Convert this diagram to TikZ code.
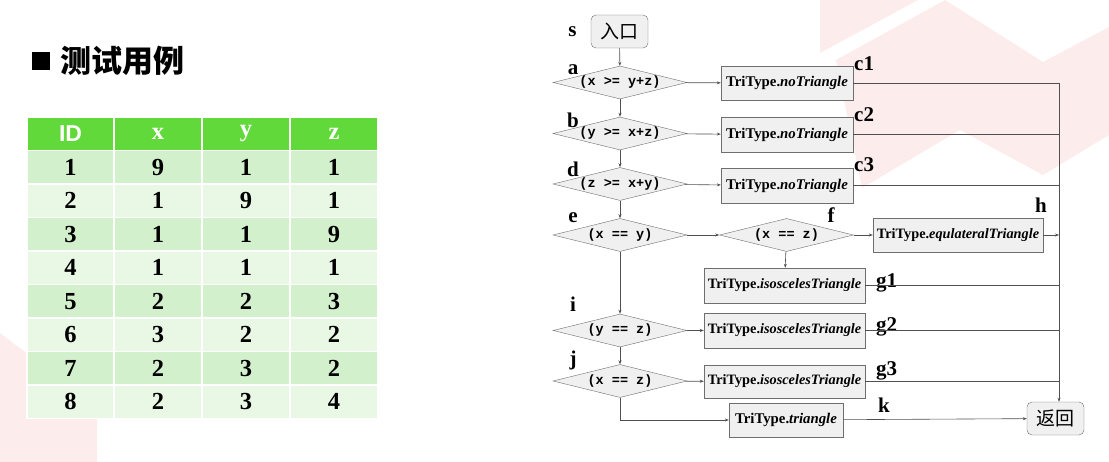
\documentclass[tikz,border=0pt]{standalone}
\usepackage{fontspec}
\setmainfont{Liberation Serif}
\newfontfamily\cjk{Noto Sans CJK SC}
\newfontfamily\monob{Liberation Mono}
\newfontfamily\sansf{Liberation Sans}
\usetikzlibrary{shapes.geometric,arrows.meta}
\definecolor{hdr}{HTML}{62D93A}
\definecolor{rowA}{HTML}{D3F0CD}
\definecolor{rowB}{HTML}{E9F7E5}
\definecolor{pinkbg}{HTML}{FCECEC}
\definecolor{boxfill}{HTML}{F0F0F0}
\definecolor{boxline}{HTML}{6E6E6E}
\definecolor{conn}{HTML}{505050}
\begin{document}
\begin{tikzpicture}[x=1pt,y=-1pt,
  dia/.style={diamond, draw=boxline, fill=boxfill, minimum width=134pt, minimum height=33pt, inner sep=0pt, aspect=4, font=\monob\bfseries\fontsize{13.5}{14}\selectfont},
  box/.style={rectangle, draw=boxline, fill=boxfill, inner sep=0pt, font=\bfseries\fontsize{14.3}{16}\selectfont},
  rbox/.style={rectangle, rounded corners=5pt, draw=boxline, fill=boxfill, minimum width=57pt, minimum height=33pt, inner sep=0pt, font=\cjk\fontsize{19}{20}\selectfont},
  lbl/.style={font=\bfseries\fontsize{21}{22}\selectfont, inner sep=0pt},
  arr/.style={draw=conn, line width=0.6pt, -{Stealth[length=4pt,width=3pt]}},
  ln/.style={draw=conn, line width=0.6pt},
  cell/.style={rectangle, draw=white, line width=1.5pt, minimum height=33.5pt, inner sep=0pt, font=\bfseries\fontsize{24.5}{26}\selectfont},
]
\useasboundingbox (0,0) rectangle (1109,462);
% background decoration
\fill[pinkbg] (820,0) -- (918,0) -- (820,53) -- cycle;
\fill[pinkbg] (836,60) -- (945,0) -- (1043,62) -- (1109,27) -- (1109,135) -- (1043,175) -- (960,130) -- (862,188) -- cycle;
\fill[pinkbg] (0,333) -- (97,407) -- (97,462) -- (0,462) -- cycle;
% title
\node[fill=black, minimum size=18pt, inner sep=0pt] (bullet) at (41,61) {};
\node[anchor=west, inner sep=0pt, font=\cjk\bfseries\fontsize{31}{31}\selectfont] (title) at (60,61) {测试用例};
% table header
\node[cell, fill=hdr, minimum width=87pt, text=white, font=\sansf\bfseries\fontsize{23}{24}\selectfont] (h1) at (70.5,133.75) {ID};
\node[cell, fill=hdr, minimum width=88pt, text=white] (h2) at (158,133.75) {x};
\node[cell, fill=hdr, minimum width=88pt, text=white] (h3) at (246,133.75) {y};
\node[cell, fill=hdr, minimum width=88pt, text=white] (h4) at (334,133.75) {z};
\foreach \r/\id/\vx/\vy/\vz in {1/1/9/1/1,2/2/1/9/1,3/3/1/1/9,4/4/1/1/1,5/5/2/2/3,6/6/3/2/2,7/7/2/3/2,8/8/2/3/4}{
  \pgfmathsetmacro\cy{133.75+33.5*\r}
  \ifodd\r \def\rc{rowA}\else\def\rc{rowB}\fi
  \node[cell, fill=\rc, minimum width=87pt] (t\r-1) at (70.5,\cy) {\id};
  \node[cell, fill=\rc, minimum width=88pt] (t\r-2) at (158,\cy) {\vx};
  \node[cell, fill=\rc, minimum width=88pt] (t\r-3) at (246,\cy) {\vy};
  \node[cell, fill=\rc, minimum width=88pt] (t\r-4) at (334,\cy) {\vz};
}
% flowchart nodes
\node[rbox] (s) at (619.5,31.5) {入口};
\node[dia] (a) at (620,82.5) {(x >= y+z)};
\node[dia] (b) at (620,133.5) {(y >= x+z)};
\node[dia] (d) at (620,184) {(z >= x+y)};
\node[dia] (e) at (620,235) {(x == y)};
\node[dia] (f) at (786.5,235) {(x == z)};
\node[dia] (i) at (620,330.5) {(y == z)};
\node[dia] (j) at (620,381) {(x == z)};
\node[box, minimum width=132pt, minimum height=34pt, font=\bfseries\fontsize{14.8}{16}\selectfont] (c1) at (787,83) {TriType.\textit{noTriangle}};
\node[box, minimum width=132pt, minimum height=35pt, font=\bfseries\fontsize{14.8}{16}\selectfont] (c2) at (787,134.5) {TriType.\textit{noTriangle}};
\node[box, minimum width=132pt, minimum height=35pt, font=\bfseries\fontsize{14.8}{16}\selectfont] (c3) at (787,185.5) {TriType.\textit{noTriangle}};
\node[box, minimum width=170pt, minimum height=34pt] (h) at (958,235) {TriType.\textit{equlateralTriangle}};
\node[box, minimum width=161pt, minimum height=35pt] (g1) at (784.5,285.5) {TriType.\textit{isoscelesTriangle}};
\node[box, minimum width=161pt, minimum height=35pt] (g2) at (784.5,330.5) {TriType.\textit{isoscelesTriangle}};
\node[box, minimum width=161pt, minimum height=33pt] (g3) at (784.5,381.5) {TriType.\textit{isoscelesTriangle}};
\node[box, minimum width=114pt, minimum height=34pt, font=\bfseries\fontsize{14.8}{16}\selectfont] (tri) at (786,420) {TriType.\textit{triangle}};
\node[rbox] (ret) at (1055.5,418.5) {返回};
\coordinate (R) at (1059,83);
% labels
\node[lbl, anchor=base] (ls) at (572.5,37) {s};
\node[lbl, anchor=base] (la) at (573,75) {a};
\node[lbl, anchor=base] (lb) at (573,128) {b};
\node[lbl, anchor=base] (ld) at (573,177) {d};
\node[lbl, anchor=base] (le) at (573,223) {e};
\node[lbl, anchor=base] (lf) at (831,223) {f};
\node[lbl, anchor=base] (li) at (573,312) {i};
\node[lbl, anchor=base] (lj) at (573,366) {j};
\node[lbl, anchor=base] (lh) at (1041,213) {h};
\node[lbl, anchor=base west] (lc1) at (854,71) {c1};
\node[lbl, anchor=base west] (lc2) at (854,122) {c2};
\node[lbl, anchor=base west] (lc3) at (854,172) {c3};
\node[lbl, anchor=base west] (lg1) at (876,288) {g1};
\node[lbl, anchor=base west] (lg2) at (876,332) {g2};
\node[lbl, anchor=base west] (lg3) at (876,376) {g3};
\node[lbl, anchor=base] (lk) at (884,412) {k};
% connectors
\draw[arr] (s) -- (a);
\draw[arr] (a) -- (b);
\draw[arr] (b) -- (d);
\draw[arr] (d) -- (e);
\draw[arr] (e) -- (i);
\draw[arr] (i) -- (j);
\draw[arr] (a) -- (c1);
\draw[arr] (b) -- (c2);
\draw[arr] (d) -- (c3);
\draw[arr] (e) -- (f);
\draw[arr] (f) -- (h);
\draw[arr] (f) -- (g1);
\draw[arr] (i) -- (g2);
\draw[arr] (j) -- (g3);
\draw[arr] (j.south) |- (tri.west);
\draw[arr] (tri) -- (ret);
\draw[ln] (c1.east) -- (c1.east -| R);
\draw[ln] (c2.east) -- (c2.east -| R);
\draw[ln] (c3.east) -- (c3.east -| R);
\draw[arr] (h.east) -- (h.east -| R);
\draw[ln] (g1.east) -- (g1.east -| R);
\draw[ln] (g2.east) -- (g2.east -| R);
\draw[ln] (g3.east) -- (g3.east -| R);
\draw[arr] (R) -- (R |- ret.north);
\end{tikzpicture}
\end{document}
